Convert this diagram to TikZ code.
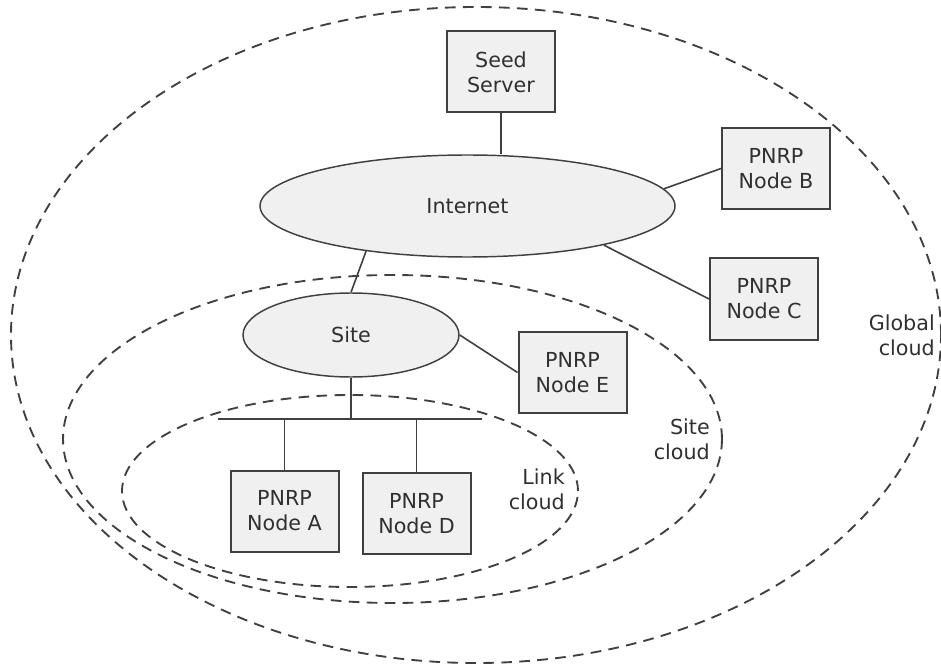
\documentclass[tikz,border=0pt]{standalone}
\usepackage{fontspec}
\setmainfont{DejaVu Sans}
\usetikzlibrary{shapes.geometric}

\definecolor{linegray}{HTML}{404040}
\definecolor{boxfill}{HTML}{F0F0F0}
\definecolor{textgray}{HTML}{303030}

\begin{document}
\begin{tikzpicture}[x=0.75pt, y=-0.75pt,
    every node/.style={font=\fontsize{15.5pt}{18.75pt}\selectfont, text=textgray},
    pnrpbox/.style={rectangle, draw=linegray, fill=boxfill, line width=1.5pt, minimum width=81pt, minimum height=60.75pt, align=center},
    netblob/.style={ellipse, draw=linegray, fill=boxfill, line width=1.1pt},
    cloudline/.style={draw=linegray, line width=1.4pt, dash pattern=on 8pt off 5.5pt},
    cloudlabel/.style={anchor=east, align=right, inner sep=0pt},
    wire/.style={draw=linegray, line width=1.2pt}]
    \useasboundingbox (0,0) rectangle (941,666);

    % the three clouds
    \draw[cloudline] (476,335) ellipse [x radius=348.75pt, y radius=246pt];
    \draw[cloudline] (392.5,439) ellipse [x radius=247.1pt, y radius=123pt];
    \draw[cloudline] (350,491) ellipse [x radius=171pt, y radius=72pt];

    \node(globalLbl) [cloudlabel] at (935,335) {Global\\cloud};
    \node(siteLbl) [cloudlabel] at (710,439) {Site\\cloud};
    \node(linkLbl) [cloudlabel] at (565,489) {Link\\cloud};

    % networks
    \node(inet) [netblob, minimum width=311.25pt, minimum height=76.5pt] at (467.5,206) {Internet};
    \node(site) [netblob, minimum width=162pt, minimum height=63pt] at (351,335) {Site};

    % peers
    \node(seed) [pnrpbox] at (501,72) {Seed\\Server};
    \node(nodeB) [pnrpbox] at (776,168.5) {PNRP\\Node B};
    \node(nodeC) [pnrpbox] at (764,299) {PNRP\\Node C};
    \node(nodeE) [pnrpbox] at (572.5,372.5) {PNRP\\Node E};
    \node(nodeA) [pnrpbox] at (284.5,511) {PNRP\\Node A};
    \node(nodeD) [pnrpbox] at (416.5,513.5) {PNRP\\Node D};

    % link bus
    \coordinate(busL) at (218,419);
    \coordinate(busR) at (482,419);

    \draw[wire] (seed.south) -- (seed.south |- inet.north);
    \draw[wire] (inet.5) -- (nodeB.west);
    \draw[wire] (inet.-16) -- (nodeC.west);
    \draw[wire] (inet.204) -- (site.north);
    \draw[wire] (site.east) -- (nodeE.west);
    \draw[wire] (busL) -- (busR);
    \draw[wire] (site.south) -- (site.south |- busL);
    \draw[wire] (nodeA.north) -- (nodeA.north |- busL);
    \draw[wire] (nodeD.north) -- (nodeD.north |- busL);
\end{tikzpicture}
\end{document}
